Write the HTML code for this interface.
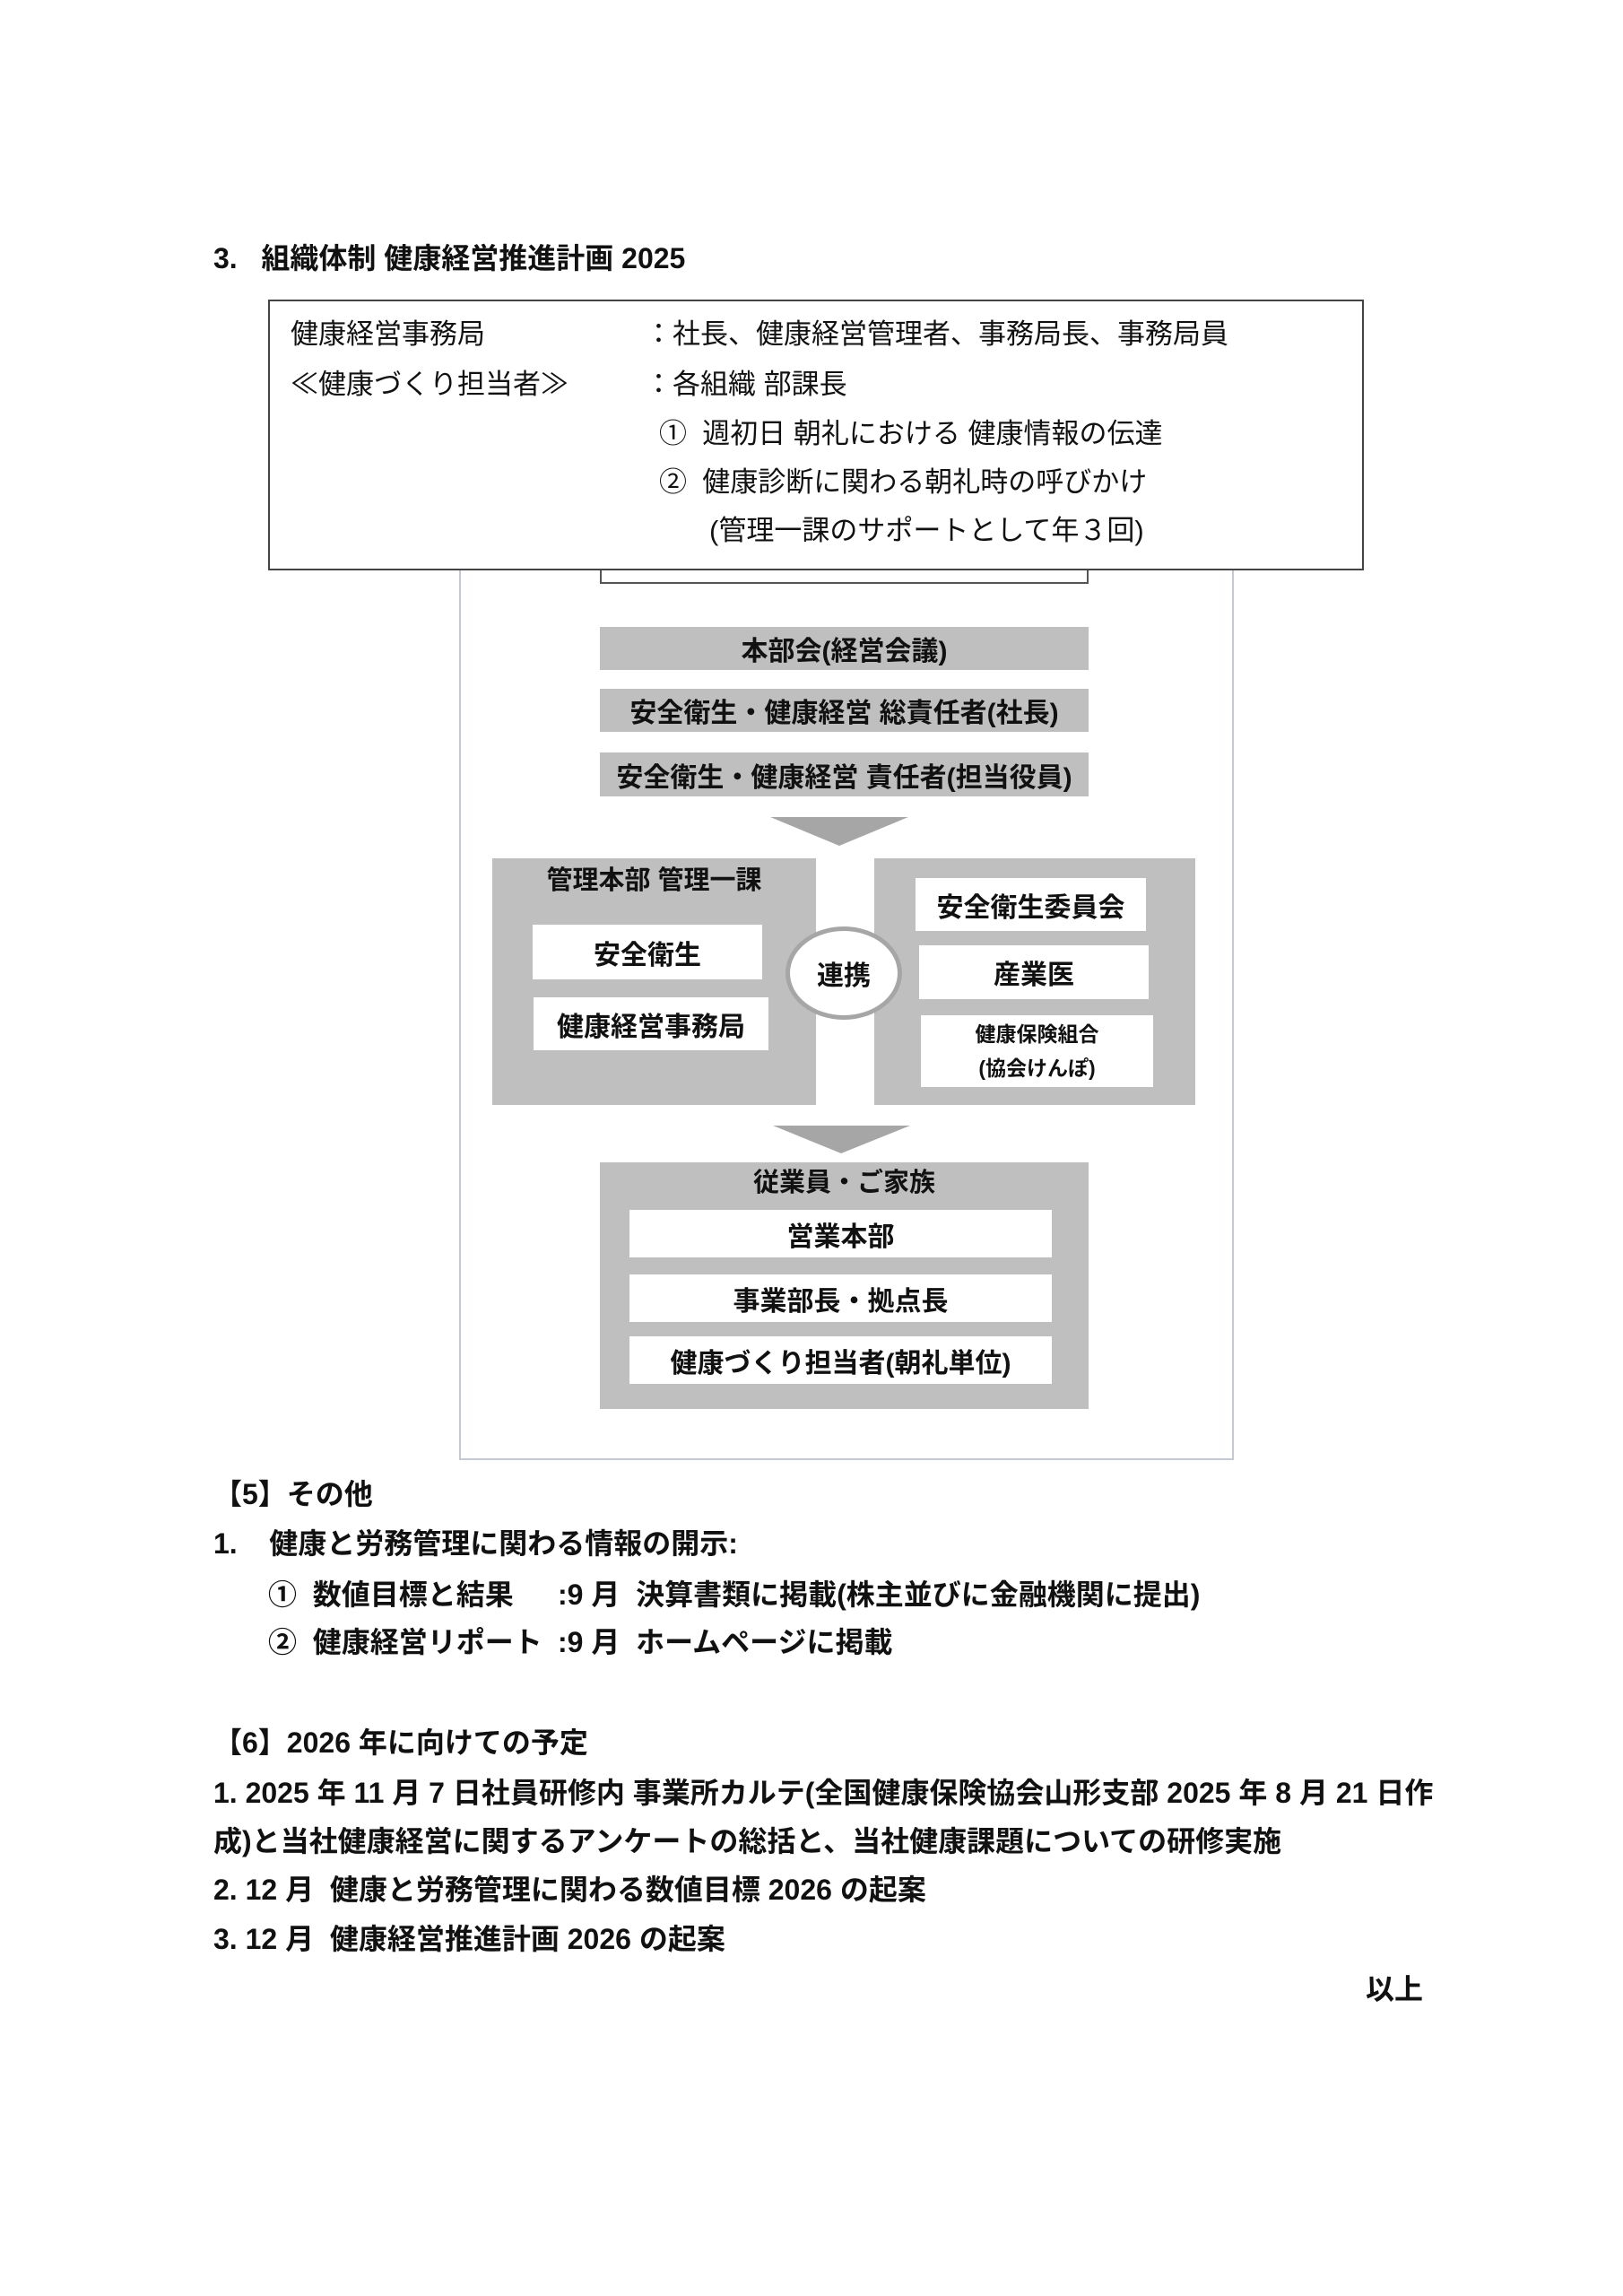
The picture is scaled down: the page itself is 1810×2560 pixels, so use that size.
<!DOCTYPE html>
<html><head><meta charset="utf-8"><style>
body{margin:0;background:#fff;}
#p{position:relative;width:1810px;height:2560px;overflow:hidden;background:#fff;font-family:"Liberation Sans","Noto Sans CJK JP",sans-serif;color:#111;}
.t{position:absolute;white-space:nowrap;line-height:40px;height:40px;font-size:32px;font-weight:bold;}
.n{font-weight:normal;font-size:31px;}
.r{position:absolute;box-sizing:border-box;}
.g{background:#bfbfbf;}
.w{background:#fff;}
.c{display:flex;align-items:center;justify-content:center;font-weight:bold;font-size:30px;white-space:nowrap;}
</style></head><body><div id="p">

<div class="t" style="left:238px;top:268px;">3.&nbsp;&nbsp;&nbsp;組織体制&nbsp;健康経営推進計画 2025</div>

<div class="r" style="left:512px;top:600px;width:864px;height:1028px;border:2px solid #c4c9d4;"></div>
<div class="r w" style="left:669px;top:620px;width:545px;height:31px;border:2px solid #555;"></div>

<div class="r w" style="left:299px;top:334px;width:1222px;height:302px;border:2px solid #444;"></div>
<div class="t n" style="left:324px;top:353px;">健康経営事務局</div>
<div class="t n" style="left:719px;top:353px;">：社長、健康経営管理者、事務局長、事務局員</div>
<div class="t n" style="left:324px;top:409px;">≪健康づくり担当者≫</div>
<div class="t n" style="left:719px;top:409px;">：各組織 部課長</div>
<div class="t n" style="left:735px;top:464px;">①&nbsp;&nbsp;週初日 朝礼における 健康情報の伝達</div>
<div class="t n" style="left:735px;top:518px;">②&nbsp;&nbsp;健康診断に関わる朝礼時の呼びかけ</div>
<div class="t n" style="left:791px;top:572px;">(管理一課のサポートとして年３回)</div>

<div class="r g c" style="left:669px;top:699px;width:545px;height:48px;">本部会(経営会議)</div>
<div class="r g c" style="left:669px;top:768px;width:545px;height:48px;">安全衛生・健康経営 総責任者(社長)</div>
<div class="r g c" style="left:669px;top:839px;width:545px;height:49px;">安全衛生・健康経営 責任者(担当役員)</div>

<svg class="r" style="left:0;top:0;" width="1810" height="2560">
<polygon points="859,911 1013,911 936,943" fill="#a6a6a6"/>
<polygon points="862,1255 1015,1255 938,1286" fill="#a6a6a6"/>
</svg>

<div class="r g" style="left:549px;top:957px;width:361px;height:275px;"></div>
<div class="t" style="left:549px;top:962px;width:361px;text-align:center;font-size:29px;">管理本部 管理一課</div>
<div class="r w c" style="left:594px;top:1031px;width:256px;height:61px;">安全衛生</div>
<div class="r w c" style="left:595px;top:1112px;width:262px;height:59px;">健康経営事務局</div>

<div class="r g" style="left:975px;top:957px;width:358px;height:275px;"></div>
<div class="r w c" style="left:1021px;top:979px;width:257px;height:59px;">安全衛生委員会</div>
<div class="r w c" style="left:1025px;top:1054px;width:256px;height:60px;">産業医</div>
<div class="r w c" style="left:1027px;top:1132px;width:259px;height:80px;flex-direction:column;font-size:23px;line-height:38px;"><div>健康保険組合</div><div>(協会けんぽ)</div></div>

<div class="r w c" style="left:876px;top:1033px;width:130px;height:104px;border:5px solid #a6a6a6;border-radius:50%;">連携</div>

<div class="r g" style="left:669px;top:1296px;width:545px;height:275px;"></div>
<div class="t" style="left:669px;top:1299px;width:545px;text-align:center;font-size:29px;">従業員・ご家族</div>
<div class="r w c" style="left:702px;top:1349px;width:471px;height:53px;">営業本部</div>
<div class="r w c" style="left:702px;top:1421px;width:471px;height:53px;">事業部長・拠点長</div>
<div class="r w c" style="left:702px;top:1490px;width:471px;height:53px;">健康づくり担当者(朝礼単位)</div>

<div class="t" style="left:238px;top:1646px;">【5】その他</div>
<div class="t" style="left:238px;top:1701px;">1.&nbsp;&nbsp;&nbsp;&nbsp;健康と労務管理に関わる情報の開示:</div>
<div class="t" style="left:299px;top:1758px;">①&nbsp;&nbsp;数値目標と結果</div>
<div class="t" style="left:622px;top:1758px;">:9 月&nbsp;&nbsp;決算書類に掲載(株主並びに金融機関に提出)</div>
<div class="t" style="left:299px;top:1811px;">②&nbsp;&nbsp;健康経営リポート</div>
<div class="t" style="left:622px;top:1811px;">:9 月&nbsp;&nbsp;ホームページに掲載</div>

<div class="t" style="left:238px;top:1923px;">【6】2026 年に向けての予定</div>
<div class="t" style="left:238px;top:1979px;">1. 2025 年 11 月 7 日社員研修内 事業所カルテ(全国健康保険協会山形支部 2025 年 8 月 21 日作</div>
<div class="t" style="left:238px;top:2033px;">成)と当社健康経営に関するアンケートの総括と、当社健康課題についての研修実施</div>
<div class="t" style="left:238px;top:2087px;">2. 12 月&nbsp;&nbsp;健康と労務管理に関わる数値目標 2026 の起案</div>
<div class="t" style="left:238px;top:2142px;">3. 12 月&nbsp;&nbsp;健康経営推進計画 2026 の起案</div>
<div class="t" style="left:1523px;top:2198px;">以上</div>

</div></body></html>
